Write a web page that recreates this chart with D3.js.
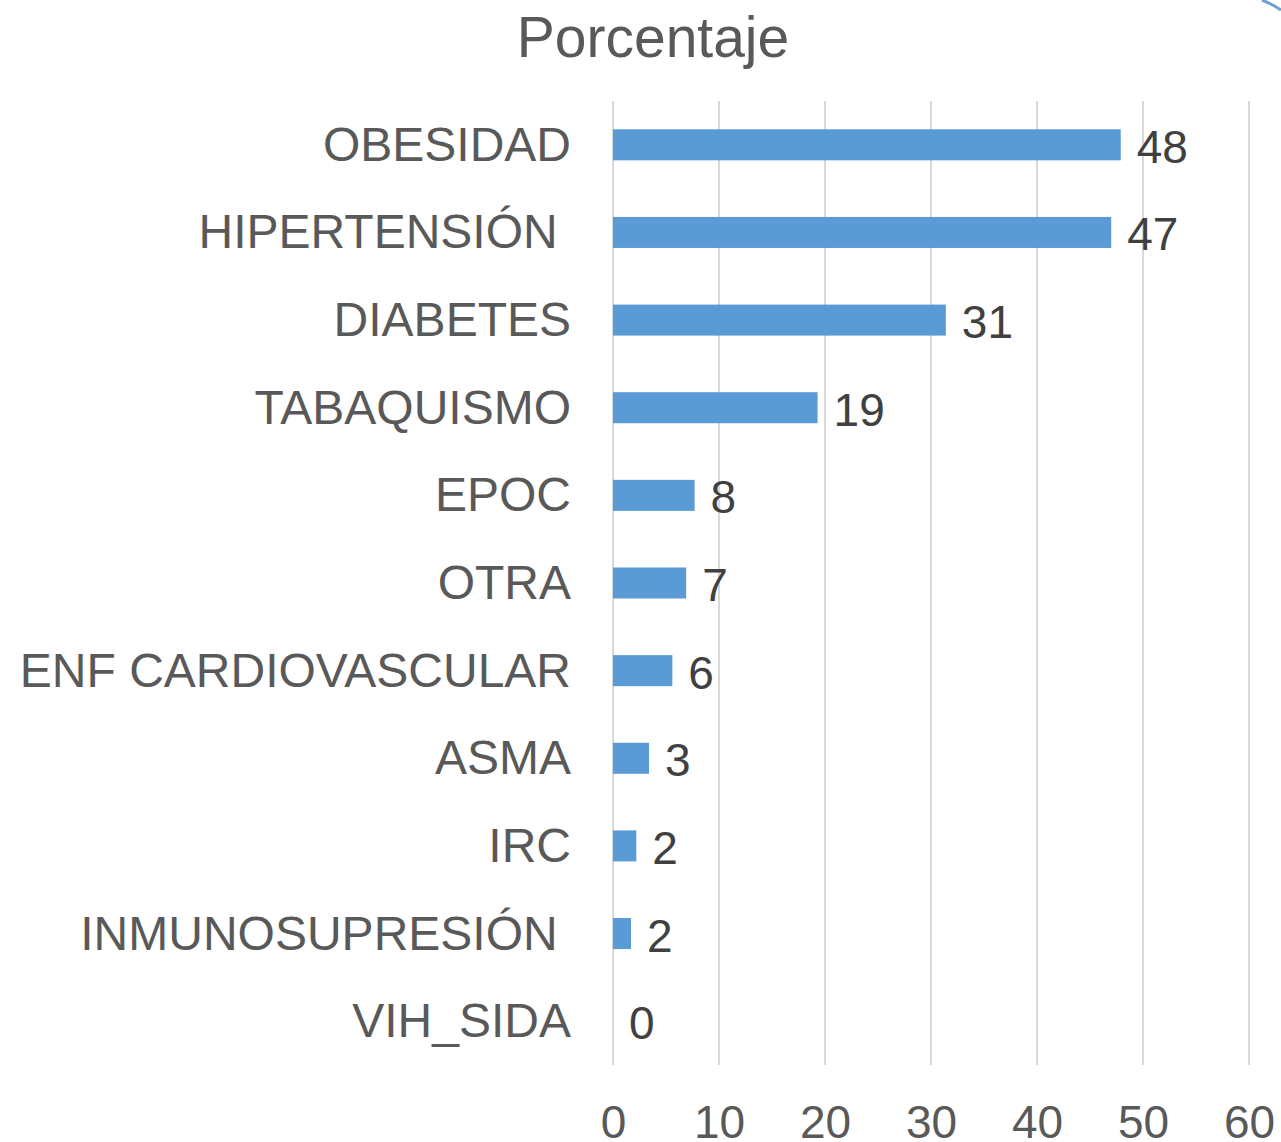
<!DOCTYPE html>
<html>
<head>
<meta charset="utf-8">
<script src="https://cdn.jsdelivr.net/npm/d3@7"></script>
<style>
  body { margin: 0; background: #fff; }
  svg text { font-family: "Liberation Sans", Arial, sans-serif; white-space: pre; }
</style>
</head>
<body>
<svg id="canvas" width="1281" height="1142"></svg>
<script>
// categories, top to bottom
let categories = [
  "OBESIDAD",
  "HIPERTENSIÓN ",
  "DIABETES",
  "TABAQUISMO",
  "EPOC",
  "OTRA",
  "ENF CARDIOVASCULAR",
  "ASMA",
  "IRC",
  "INMUNOSUPRESIÓN ",
  "VIH_SIDA",
];
let values = [47.9, 47.0, 31.4, 19.3, 7.7, 6.9, 5.6, 3.4, 2.2, 1.7, 0];
let xTicks = [0, 10, 20, 30, 40, 50, 60];
let title = "Porcentaje";

let canvas = d3.select("#canvas");
let g = canvas.append("g");

// plot area
const plotLeft = 613, plotRight = 1249, plotTop = 101, plotBottom = 1065;

let x = d3.scaleLinear().domain([0, 60]).range([plotLeft, plotRight]);
let y = d3.scaleBand()
  .domain(categories)
  .range([plotTop, plotBottom])
  .paddingInner(0.646)
  .paddingOuter(0.323);

// gridlines
g.selectAll("line.grid")
  .data(xTicks)
  .enter()
  .append("line")
  .attr("class", "grid")
  .attr("x1", (d) => x(d))
  .attr("x2", (d) => x(d))
  .attr("y1", plotTop)
  .attr("y2", plotBottom)
  .attr("stroke", "#d9d9d9")
  .attr("stroke-width", 2);

// x axis labels
let xAxis = d3.axisBottom(x).tickValues(xTicks).tickSize(0).tickPadding(0);
let axisG = g.append("g").attr("transform", `translate(0, ${plotBottom})`).call(xAxis);
axisG.select(".domain").remove();
axisG.selectAll("text")
  .attr("y", 73)
  .attr("dy", 0)
  .attr("font-size", 46)
  .attr("font-family", "Liberation Sans, Arial, sans-serif")
  .attr("fill", "#595959");

// y axis labels
let yAxis = d3.axisLeft(y).tickSize(0).tickPadding(42);
let yG = g.append("g").attr("transform", `translate(${plotLeft}, 0)`).call(yAxis);
yG.select(".domain").remove();
yG.selectAll("text")
  .attr("dy", 0)
  .attr("y", 16)
  .attr("font-size", 48)
  .attr("font-family", "Liberation Sans, Arial, sans-serif")
  .attr("fill", "#595959");

// bars
g.selectAll("rect.bar")
  .data(values)
  .enter()
  .append("rect")
  .attr("class", "bar")
  .attr("x", x(0))
  .attr("y", (d, i) => y(categories[i]))
  .attr("width", (d) => x(d) - x(0))
  .attr("height", y.bandwidth())
  .attr("fill", "#5b9bd5");

// value labels
g.selectAll("text.val")
  .data(values)
  .enter()
  .append("text")
  .attr("class", "val")
  .attr("x", (d) => x(d) + 16)
  .attr("y", (d, i) => y(categories[i]) + y.bandwidth() / 2 + 18)
  .attr("font-size", 46)
  .attr("fill", "#404040")
  .text((d) => d3.format(".0f")(d));

// title
canvas.append("text")
  .attr("x", 653)
  .attr("y", 57)
  .attr("text-anchor", "middle")
  .attr("font-size", 57)
  .attr("fill", "#595959")
  .text(title);

// slide decoration in the corner
canvas.append("path")
  .attr("d", "M1262,0 Q1272,4 1281,10")
  .attr("fill", "none")
  .attr("stroke", "#4a86c8")
  .attr("stroke-width", 3)
  .attr("opacity", 0.8);
</script>
</body>
</html>
